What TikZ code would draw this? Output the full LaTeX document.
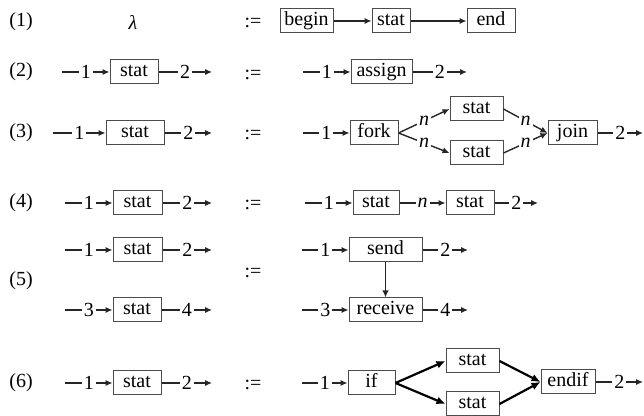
\documentclass[tikz,border=0pt]{standalone}
\usepackage{fontspec}
\setmainfont{LiberationSerif-Regular.ttf}[ItalicFont=LiberationSerif-Italic.ttf, BoldFont=LiberationSerif-Bold.ttf]
\usetikzlibrary{arrows.meta}

\tikzset{
  box/.style={draw=black!70, line width=0.5pt, inner sep=0pt, minimum height=12pt,
    text height=7pt, text depth=2pt},
  flow/.style={draw=black!85, line width=0.7pt, -{Latex[length=3.5pt,width=3.2pt]}},
  heavy/.style={draw=black, line width=1.1pt, -{Latex[length=4.5pt,width=4pt]}},
  lab/.style={fill=white, inner sep=1pt},
}

\begin{document}
\begin{tikzpicture}[x=0.5pt,y=-0.5pt]
\useasboundingbox (0,0) rectangle (644,416);
% (1)
\node (no1) at (21,22) {(1)};
\node (lam) at (133,22) {\textit{λ}};
\node (def1) at (253,23) {:=};
\node[box, minimum width=26.5pt] (begin) at (306.5,21) {begin};
\node[box, minimum width=19pt] (stat1) at (391,21) {stat};
\node[box, minimum width=24pt] (end) at (491,21) {end};
\draw[flow] (begin.east) -- (stat1.west);
\draw[flow] (stat1.east) -- (end.west);
%
% (2)
\node (no2) at (21,72) {(2)};
\coordinate (in2) at (62,72);
\coordinate (out2) at (212,72);
\node[box, minimum width=24pt] (stat2) at (134,72) {stat};
\draw[flow] (in2) -- node[lab] {1} (stat2.west);
\draw[flow] (stat2.east) -- node[lab] {2} (out2);
\node (def2) at (253,75) {:=};
\coordinate (in2r) at (303,72);
\coordinate (out2r) at (467,72);
\node[box, minimum width=30.5pt] (assign) at (381.5,72) {assign};
\draw[flow] (in2r) -- node[lab] {1} (assign.west);
\draw[flow] (assign.east) -- node[lab] {2} (out2r);
%
% (3)
\node (no3) at (21,133) {(3)};
\coordinate (in3) at (53,133);
\coordinate (out3) at (212,133);
\node[box, minimum width=29pt] (stat3) at (135,133) {stat};
\draw[flow] (in3) -- node[lab] {1} (stat3.west);
\draw[flow] (stat3.east) -- node[lab] {2} (out3);
\node (def3) at (253,135) {:=};
\coordinate (in3r) at (303,133);
\coordinate (out3r) at (643,133);
\node[box, minimum width=24pt] (fork) at (374,133) {fork};
\node[box, minimum width=26.5pt] (up3) at (476.5,109) {stat};
\node[box, minimum width=26.5pt] (lo3) at (476.5,153) {stat};
\node[box, minimum width=24.5pt] (join) at (572.5,133) {join};
\draw[flow] (in3r) -- node[lab] {1} (fork.west);
\draw[flow] (fork.east) -- node[lab] {\textit{n}} (up3.west);
\draw[flow] (fork.east) -- node[lab] {\textit{n}} (lo3.west);
\draw[flow] (up3.east) -- node[lab] {\textit{n}} (join.west);
\draw[flow] (lo3.east) -- node[lab] {\textit{n}} (join.west);
\draw[flow] (join.east) -- node[lab] {2} (out3r);
%
% (4)
\node (no4) at (21,203) {(4)};
\coordinate (in4) at (65,203);
\coordinate (out4) at (212,203);
\node[box, minimum width=24.5pt] (stat4) at (137.5,203) {stat};
\draw[flow] (in4) -- node[lab] {1} (stat4.west);
\draw[flow] (stat4.east) -- node[lab] {2} (out4);
\node (def4) at (253,205) {:=};
\coordinate (in4r) at (305,203);
\coordinate (out4r) at (538,203);
\node[box, minimum width=23pt] (seqa) at (376,203) {stat};
\node[box, minimum width=24pt] (seqb) at (470,203) {stat};
\draw[flow] (in4r) -- node[lab] {1} (seqa.west);
\draw[flow] (seqa.east) -- node[lab] {\textit{n}} (seqb.west);
\draw[flow] (seqb.east) -- node[lab] {2} (out4r);
%
% (5)
\node (no5) at (21,281) {(5)};
\coordinate (in5a) at (65,250);
\coordinate (out5a) at (212,250);
\node[box, minimum width=24.5pt] (stat5a) at (137.5,250) {stat};
\draw[flow] (in5a) -- node[lab] {1} (stat5a.west);
\draw[flow] (stat5a.east) -- node[lab] {2} (out5a);
\coordinate (in5b) at (65,310);
\coordinate (out5b) at (212,310);
\node[box, minimum width=24pt] (stat5b) at (137,310) {stat};
\draw[flow] (in5b) -- node[lab] {3} (stat5b.west);
\draw[flow] (stat5b.east) -- node[lab] {4} (out5b);
\node (def5) at (253,273) {:=};
\coordinate (in5r) at (302,250);
\coordinate (out5r) at (468,250);
\node[box, minimum width=36.5pt] (send) at (385.5,250) {send};
\draw[flow] (in5r) -- node[lab] {1} (send.west);
\draw[flow] (send.east) -- node[lab] {2} (out5r);
\coordinate (in5s) at (302,310);
\coordinate (out5s) at (468,310);
\node[box, minimum width=36.5pt] (recv) at (385.5,310) {receive};
\draw[flow] (in5s) -- node[lab] {3} (recv.west);
\draw[flow] (recv.east) -- node[lab] {4} (out5s);
\draw[flow] (send.south) -- (recv.north);
%
% (6)
\node (no6) at (21,383) {(6)};
\coordinate (in6) at (65,383);
\coordinate (out6) at (212,383);
\node[box, minimum width=24pt] (stat6) at (137,383) {stat};
\draw[flow] (in6) -- node[lab] {1} (stat6.west);
\draw[flow] (stat6.east) -- node[lab] {2} (out6);
\node (def6) at (253,385) {:=};
\coordinate (in6r) at (302,383);
\coordinate (out6r) at (643,382);
\node[box, minimum width=23.5pt] (if) at (371.5,383) {if};
\node[box, minimum width=26.5pt] (up6) at (472.5,361) {stat};
\node[box, minimum width=26.5pt] (lo6) at (472.5,404) {stat};
\node[box, minimum width=27pt] (endif) at (568,382) {endif};
\draw[flow] (in6r) -- node[lab] {1} (if.west);
\draw[heavy] (if.east) -- (up6.west);
\draw[heavy] (if.east) -- (lo6.west);
\draw[heavy] (up6.east) -- (endif.west);
\draw[heavy] (lo6.east) -- (endif.west);
\draw[flow] (endif.east) -- node[lab] {2} (out6r);
\end{tikzpicture}
\end{document}
